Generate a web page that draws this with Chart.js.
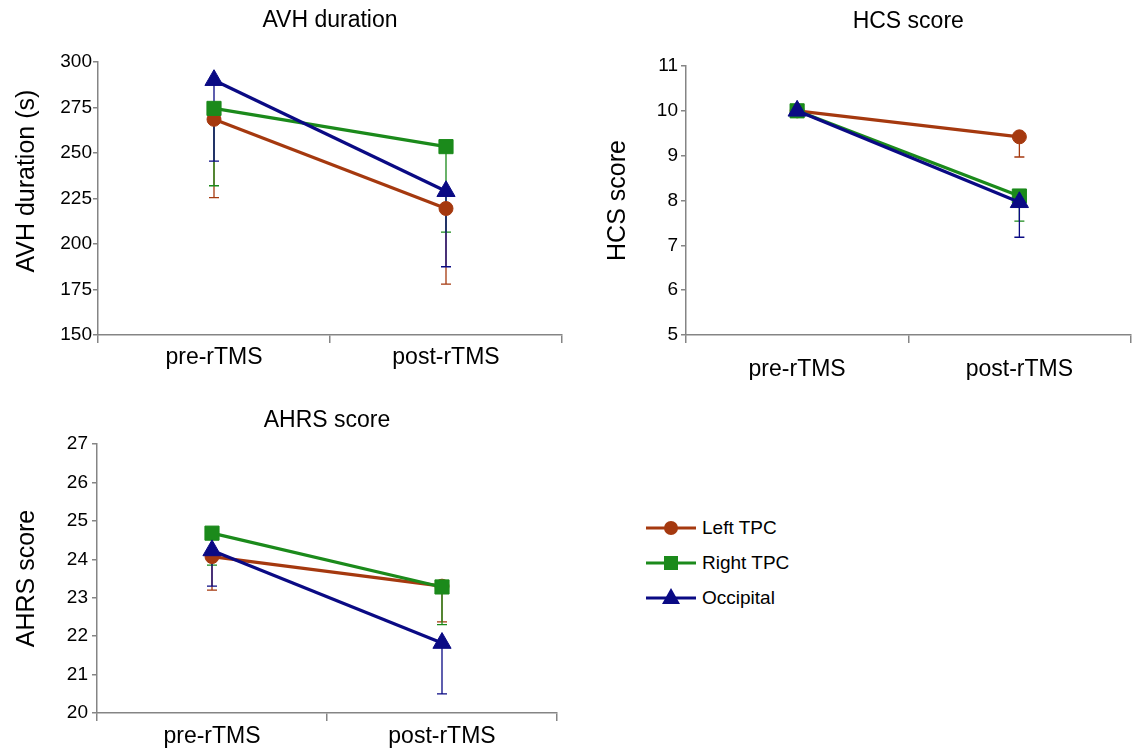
<!DOCTYPE html>
<html>
<head>
<meta charset="utf-8">
<script src="https://cdn.jsdelivr.net/npm/chart.js@4.4.0/dist/chart.umd.min.js"></script>
<style>
  html, body { margin: 0; padding: 0; background: #fff; width: 1139px; height: 750px; overflow: hidden; position: relative; font-family: "Liberation Sans", Arial, sans-serif; }
  canvas { position: absolute; }
  #avhChart { left: 0; top: 0; }
  #hcsChart { left: 570px; top: 0; }
  #ahrsChart { left: 0; top: 380px; }
  .legend { position: absolute; left: 646px; top: 510px; }
  .legend-row { display: flex; align-items: center; height: 35px; font-size: 19px; color: #000; }
  .legend-row svg { margin-right: 6px; }
</style>
</head>
<body>
<canvas id="avhChart" width="580" height="380"></canvas>
<canvas id="hcsChart" width="572" height="380"></canvas>
<canvas id="ahrsChart" width="580" height="370"></canvas>
<div class="legend" id="legend"></div>
<script>
// categories and series
const categories = ['pre-rTMS', 'post-rTMS'];
const seriesNames = ['Left TPC', 'Right TPC', 'Occipital'];
const seriesColors = ['#a5390f', '#1b8a1b', '#0a0a84'];
const seriesStyles = ['circle', 'rect', 'triangle'];
const seriesRadius = [7, 10, 10.5];

// AVH duration (s), mean and SD
const avhLeft = [268.5, 219.5];
const avhLeftSd = [43, 41.5];
const avhRight = [274.5, 253.5];
const avhRightSd = [42.5, 47];
const avhOcc = [290, 229];
const avhOccSd = [44.5, 41.5];
const avhTicks = [150, 300, 25];

// HCS score
const hcsLeft = [10, 9.42];
const hcsLeftSd = [0, 0.45];
const hcsRight = [10, 8.1];
const hcsRightSd = [0, 0.56];
const hcsOcc = [10, 7.96];
const hcsOccSd = [0, 0.78];
const hcsTicks = [5, 11, 1];

// AHRS score
const ahrsLeft = [24.07, 23.3];
const ahrsLeftSd = [0.87, 0.93];
const ahrsRight = [24.68, 23.28];
const ahrsRightSd = [0.83, 0.98];
const ahrsOcc = [24.23, 21.82];
const ahrsOccSd = [0.93, 1.32];
const ahrsTicks = [20, 27, 1];

const fontFamily = '"Liberation Sans", Arial, sans-serif';
const axisGrey = '#858585';

// lower error bars (mean - SD), drawn under the lines
const errorBars = {
  id: 'errorBars',
  beforeDatasetsDraw(chart) {
    const ctx = chart.ctx;
    const yScale = chart.scales.y;
    chart.data.datasets.forEach((ds, i) => {
      const meta = chart.getDatasetMeta(i);
      ctx.save();
      ctx.strokeStyle = ds.borderColor;
      ctx.lineWidth = 1.3;
      meta.data.forEach((pt, j) => {
        const sd = ds.errors[j];
        if (!sd) return;
        const yTop = yScale.getPixelForValue(ds.data[j]);
        const yLow = yScale.getPixelForValue(ds.data[j] - sd);
        ctx.beginPath();
        ctx.moveTo(pt.x, yTop);
        ctx.lineTo(pt.x, yLow);
        ctx.moveTo(pt.x - 5, yLow);
        ctx.lineTo(pt.x + 5, yLow);
        ctx.stroke();
      });
      ctx.restore();
    });
  }
};

// panel title centred over the plot area
const panelTitle = {
  id: 'panelTitle',
  afterDraw(chart, args, opts) {
    const { ctx, chartArea } = chart;
    ctx.save();
    ctx.font = '23px ' + fontFamily;
    ctx.fillStyle = '#000';
    ctx.textAlign = 'center';
    ctx.textBaseline = 'middle';
    ctx.fillText(opts.text, (chartArea.left + chartArea.right) / 2, opts.y);
    ctx.restore();
  }
};

function makeDatasets(values, errors) {
  // Occipital on top, then Right, then Left
  return values.map((v, i) => ({
    label: seriesNames[i],
    data: v,
    errors: errors[i],
    borderColor: seriesColors[i],
    backgroundColor: seriesColors[i],
    borderWidth: 3.2,
    pointStyle: seriesStyles[i],
    pointRadius: seriesRadius[i],
    pointBorderWidth: 1,
    order: 2 - i
  }));
}

function makeChart(id, cfg) {
  return new Chart(document.getElementById(id), {
    type: 'line',
    data: {
      labels: categories,
      datasets: makeDatasets(cfg.values, cfg.errors)
    },
    options: {
      responsive: false,
      animation: false,
      layout: { padding: { left: 0, right: cfg.padRight, top: cfg.top, bottom: 0 } },
      plugins: {
        legend: { display: false },
        tooltip: { enabled: false },
        title: { display: false },
        panelTitle: { text: cfg.title, y: cfg.titleY }
      },
      scales: {
        x: {
          offset: true,
          grid: { offset: true, drawOnChartArea: false, tickLength: 8, color: axisGrey, lineWidth: 1.5 },
          border: { color: axisGrey, width: 1.5 },
          ticks: { color: '#000', font: { family: fontFamily, size: 23 }, padding: cfg.xPad },
          afterFit(scale) { scale.height = cfg.xHeight; }
        },
        y: {
          min: cfg.ticks[0],
          max: cfg.ticks[1],
          ticks: { stepSize: cfg.ticks[2], color: '#000', font: { family: fontFamily, size: 19 }, padding: cfg.yPad },
          grid: { drawOnChartArea: false, tickLength: 5, color: axisGrey, lineWidth: 1.5 },
          border: { color: axisGrey, width: 1.5 },
          title: {
            display: true,
            text: cfg.yTitle,
            color: '#000',
            font: { family: fontFamily, size: 25 },
            padding: { top: cfg.yTitlePad, bottom: 0 }
          },
          afterFit(scale) { scale.width = cfg.yWidth; }
        }
      }
    },
    plugins: [errorBars, panelTitle]
  });
}

makeChart('avhChart', {
  title: 'AVH duration', yTitle: '\u00a0\u00a0\u00a0\u00a0\u00a0AVH duration (s)',
  values: [avhLeft, avhRight, avhOcc], errors: [avhLeftSd, avhRightSd, avhOccSd],
  ticks: avhTicks,
  top: 62, titleY: 21, xHeight: 45, xPad: 1, yPad: 1, yWidth: 98, padRight: 18, yTitlePad: 12
});

makeChart('hcsChart', {
  title: 'HCS score', yTitle: 'HCS score',
  values: [hcsLeft, hcsRight, hcsOcc], errors: [hcsLeftSd, hcsRightSd, hcsOccSd],
  ticks: hcsTicks,
  top: 66, titleY: 22, xHeight: 45, xPad: 13, yPad: 3, yWidth: 116, padRight: 0, yTitlePad: 33
});

makeChart('ahrsChart', {
  title: 'AHRS score', yTitle: 'AHRS score',
  values: [ahrsLeft, ahrsRight, ahrsOcc], errors: [ahrsLeftSd, ahrsRightSd, ahrsOccSd],
  ticks: ahrsTicks,
  top: 64, titleY: 41, xHeight: 37, xPad: 2, yPad: 4, yWidth: 97, padRight: 23, yTitlePad: 12
});

// legend
const markerSvg = [
  '<circle cx="25" cy="10" r="7"/>',
  '<rect x="18" y="3" width="14" height="14"/>',
  '<polygon points="25,0 34,16 16,16"/>'
];
const legendEl = document.getElementById('legend');
seriesNames.forEach((name, i) => {
  const row = document.createElement('div');
  row.className = 'legend-row';
  row.innerHTML = '<svg width="50" height="20" fill="' + seriesColors[i] + '">' +
    '<line x1="0" y1="10" x2="50" y2="10" stroke="' + seriesColors[i] + '" stroke-width="3.2"/>' +
    markerSvg[i] + '</svg><span>' + name + '</span>';
  legendEl.appendChild(row);
});
</script>
</body>
</html>
